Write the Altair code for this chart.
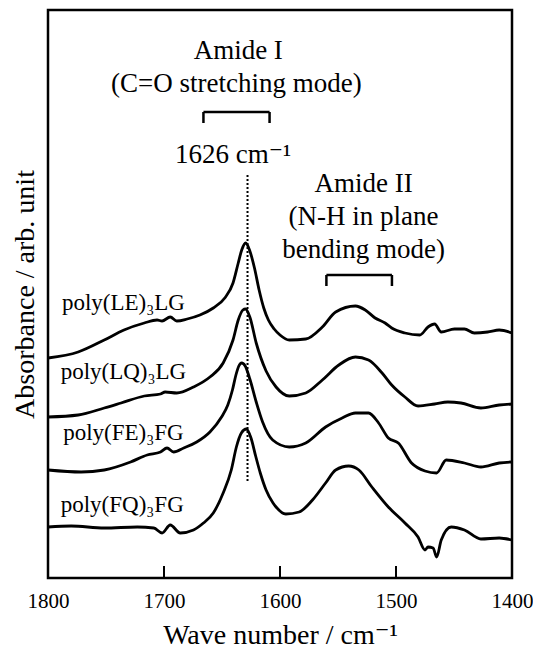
import altair as alt
import pandas as pd

# ---- spectra (wave number, absorbance in arb. units) ----
wn_LE = [1800, 1774, 1751.5, 1734.5, 1717, 1706, 1701.7, 1694.6, 1689, 1680, 1669, 1657.5, 1647.6,
         1640.5, 1636, 1633, 1629.6, 1626, 1622, 1618, 1614, 1610, 1605, 1600, 1592, 1577.8, 1563.5,
         1552, 1535, 1526.5, 1518, 1509.4, 1503.7, 1492.3, 1479.5, 1472.4, 1466.7, 1461, 1449.6,
         1441, 1432.5, 1421, 1411, 1400]
ab_LE = [2.20, 2.26, 2.38, 2.48, 2.55, 2.58, 2.57, 2.61, 2.57, 2.59, 2.63, 2.70, 2.80,
         2.95, 3.15, 3.28, 3.35, 3.27, 3.10, 2.88, 2.70, 2.58, 2.49, 2.43, 2.38, 2.39, 2.51,
         2.66, 2.72, 2.68, 2.60, 2.55, 2.50, 2.45, 2.43, 2.51, 2.54, 2.46, 2.49,
         2.49, 2.45, 2.46, 2.48, 2.45]

wn_LQ = [1800, 1774, 1751.5, 1737, 1717, 1703, 1699, 1689, 1674.6, 1660.4, 1649, 1640.5, 1636,
         1632, 1629.7, 1626, 1620.5, 1612, 1603.4, 1592, 1577.8, 1563.5, 1549.3, 1535, 1523.7,
         1512, 1503.7, 1492.3, 1481, 1466.7, 1455.3, 1444, 1426.8, 1411, 1400]
ab_LQ = [1.61, 1.63, 1.70, 1.75, 1.82, 1.84, 1.86, 1.85, 1.91, 2.01, 2.15, 2.38, 2.58,
         2.68, 2.69, 2.61, 2.35, 2.07, 1.91, 1.82, 1.85, 1.98, 2.13, 2.21, 2.18,
         2.05, 1.93, 1.81, 1.72, 1.74, 1.76, 1.75, 1.70, 1.73, 1.74]

wn_FE = [1800, 1771.5, 1751.5, 1728.8, 1714.5, 1703, 1697.4, 1691.7, 1683, 1671.8, 1660.4, 1650.4,
         1645, 1641, 1638, 1635.5, 1633, 1630, 1626, 1620.5, 1615, 1606.3, 1592, 1577.8,
         1560.7, 1546.4, 1535, 1523.7, 1515, 1506.6, 1498, 1486.6, 1475, 1465, 1456.7, 1441,
         1426.8, 1411, 1400]
ab_FE = [1.08, 1.06, 1.08, 1.16, 1.23, 1.26, 1.30, 1.26, 1.30, 1.36, 1.46, 1.61,
         1.73, 1.88, 2.03, 2.12, 2.15, 2.12, 1.99, 1.76, 1.56, 1.38, 1.31, 1.35,
         1.51, 1.60, 1.65, 1.65, 1.55, 1.40, 1.35, 1.15, 1.07, 1.05, 1.18, 1.15,
         1.11, 1.15, 1.16]

wn_FQ = [1800, 1780, 1751.5, 1723, 1708.8, 1701.7, 1694.6, 1686, 1674.6, 1666, 1657.5, 1649, 1642,
         1637.6, 1633.3, 1629, 1625, 1621, 1617, 1612, 1606, 1603.4, 1595, 1583.5, 1572,
         1560.7, 1552, 1540.8, 1532, 1520.8, 1506.6, 1492.3, 1481, 1475, 1472.4, 1468, 1465,
         1461, 1452.4, 1441, 1426.8, 1411, 1400]
ab_FQ = [0.51, 0.52, 0.50, 0.51, 0.50, 0.45, 0.53, 0.45, 0.48, 0.55, 0.65, 0.85, 1.08,
         1.31, 1.45, 1.49, 1.40, 1.22, 1.05, 0.88, 0.75, 0.71, 0.64, 0.66, 0.78,
         0.95, 1.08, 1.12, 1.08, 0.91, 0.71, 0.55, 0.41, 0.28, 0.31, 0.30, 0.21,
         0.38, 0.51, 0.48, 0.39, 0.40, 0.38]

series_names = ["poly(LE)₃LG", "poly(LQ)₃LG", "poly(FE)₃FG", "poly(FQ)₃FG"]
label_wn = [1735, 1735, 1735, 1736]
label_ab = [2.68, 1.99, 1.38, 0.66]

tick_values = [1800, 1700, 1600, 1500, 1400]

# annotations
note_text = ["Amide I", "(C=O stretching mode)", "1626 cm⁻¹", "Amide II", "(N-H in plane", "bending mode)"]
note_wn = [1636, 1637.6, 1640.4, 1528, 1528, 1528]
note_ab = [5.19, 4.86, 4.15, 3.86, 3.53, 3.20]

peak_wn = [1628]
peak_lo = [0.97]
peak_hi = [4.03]

bracket_x1 = [1666, 1560]
bracket_x2 = [1609, 1503.5]
bracket_top = [4.66, 3.03]
bracket_bot = [4.55, 2.92]

# ---- tables ----
rows = []
for name, xs, ys in zip(series_names, [wn_LE, wn_LQ, wn_FE, wn_FQ], [ab_LE, ab_LQ, ab_FE, ab_FQ]):
    for x, y in zip(xs, ys):
        rows.append({"series": name, "wn": x, "ab": y})
df = pd.DataFrame(rows)
df_lab = pd.DataFrame({"text": series_names, "wn": label_wn, "ab": label_ab})
df_note = pd.DataFrame({"text": note_text, "wn": note_wn, "ab": note_ab})
df_peak = pd.DataFrame({"wn": peak_wn, "lo": peak_lo, "hi": peak_hi})
df_br = pd.DataFrame({"x1": bracket_x1, "x2": bracket_x2, "top": bracket_top, "bot": bracket_bot})
df_legs = pd.DataFrame({"wn": bracket_x1 + bracket_x2, "top": bracket_top * 2, "bot": bracket_bot * 2})
df_ticks = pd.DataFrame({"wn": tick_values})

FONT = "'Liberation Serif', 'Times New Roman', 'DejaVu Serif', serif"
x_scale = alt.Scale(domain=[1800, 1400], nice=False)
y_scale = alt.Scale(domain=[0, 5.68], nice=False, zero=False)

x_axis = alt.Axis(values=tick_values, format="d", title="Wave number / cm⁻¹", grid=False, ticks=False,
                  domain=False, labelFontSize=21, titleFontSize=28, labelPadding=12, titlePadding=10,
                  labelFlush=False, labelOverlap=False,
                  labelColor="black", titleColor="black", titleFontWeight="normal", labelFont=FONT,
                  titleFont=FONT)
y_axis = alt.Axis(title="Absorbance / arb. unit", labels=False, ticks=False, grid=False, domain=False,
                  titleFontSize=28, titlePadding=9, titleColor="black", titleFontWeight="normal",
                  titleFont=FONT)

lines = alt.Chart(df).mark_line(color="black", strokeWidth=2.8, interpolate="monotone").encode(
    x=alt.X("wn:Q", scale=x_scale, axis=x_axis),
    y=alt.Y("ab:Q", scale=y_scale, axis=y_axis),
    detail="series:N",
    order="wn:Q",
)

ticks = alt.Chart(df_ticks).mark_rule(color="black", strokeWidth=2).encode(
    x=alt.X("wn:Q", scale=x_scale),
    y=alt.value(568),
    y2=alt.value(556),
)

peak = alt.Chart(df_peak).mark_rule(color="black", strokeWidth=2, strokeDash=[2, 2]).encode(
    x=alt.X("wn:Q", scale=x_scale),
    y=alt.Y("lo:Q", scale=y_scale),
    y2="hi:Q",
)

br_top = alt.Chart(df_br).mark_rule(color="black", strokeWidth=2.5).encode(
    x=alt.X("x1:Q", scale=x_scale),
    x2="x2:Q",
    y=alt.Y("top:Q", scale=y_scale),
)
br_legs = alt.Chart(df_legs).mark_rule(color="black", strokeWidth=2.5).encode(
    x=alt.X("wn:Q", scale=x_scale),
    y=alt.Y("top:Q", scale=y_scale),
    y2="bot:Q",
)

notes = alt.Chart(df_note).mark_text(font=FONT, fontSize=27, color="black", align="center",
                                     baseline="alphabetic").encode(
    x=alt.X("wn:Q", scale=x_scale),
    y=alt.Y("ab:Q", scale=y_scale),
    text="text:N",
)

labels = alt.Chart(df_lab).mark_text(font=FONT, fontSize=23, color="black", align="center",
                                     baseline="alphabetic").encode(
    x=alt.X("wn:Q", scale=x_scale),
    y=alt.Y("ab:Q", scale=y_scale),
    text="text:N",
)

chart = alt.layer(lines, ticks, peak, br_top, br_legs, notes, labels).properties(
    width=464, height=568,
    autosize=alt.AutoSizeParams(type="none"),
    padding={"left": 40, "top": 2, "right": 21, "bottom": 71},
).configure(
    font=FONT,
    view=alt.ViewConfig(stroke="black", strokeWidth=2.5),
)

chart.save("out.html", embed_options={"renderer": "svg", "actions": False})
